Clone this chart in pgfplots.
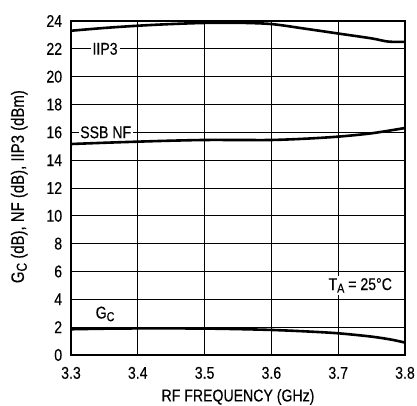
\documentclass[border=0pt]{standalone}
\usepackage{fontspec}
\setmainfont[FakeStretch=0.83, FakeBold=0.3]{Liberation Sans}
\usepackage{pgfplots}
\pgfplotsset{compat=1.18}
\newcommand{\fs}{\fontsize{17}{20}\selectfont}
\newcommand{\sub}[1]{\raisebox{-0.3ex}{\fontsize{13}{15}\selectfont #1}}
\begin{document}
\fs
\begin{tikzpicture}[x=1pt,y=1pt]
\useasboundingbox (0,0) rectangle (417,406);
\begin{axis}[
  at={(71pt,51pt)}, anchor=south west,
  scale only axis, width=334pt, height=334pt,
  xmin=3.3, xmax=3.8, ymin=0, ymax=24,
  xtick={3.3,3.4,3.5,3.6,3.7,3.8},
  xticklabels={3.3,3.4,3.5,3.6,3.7,3.8},
  ytick={0,2,...,24},
  grid=major,
  grid style={black, line width=0.8pt},
  axis line style={line width=1.2pt},
  major tick style={draw=none},
  /pgf/number format/assume math mode=true,
  tick label style={font=\fs},
  yticklabel style={xshift=-3pt},
  xticklabel style={yshift=-6pt},
  label style={font=\fs},
  xlabel={RF FREQUENCY (GHz)},
  ylabel={G\raisebox{-0.3ex}{\fontsize{14.5}{16}\selectfont C} (dB), NF (dB), IIP3 (dBm)},
  xlabel style={at={(axis description cs:0.5,-0.1257)}, anchor=center},
  ylabel style={at={(axis description cs:-0.155,0.504)}, anchor=center, font=\fontsize{18}{21}\selectfont},
  clip=true,
]
\addplot[black, line width=2.6pt, smooth] coordinates {
 (3.30,23.30) (3.35,23.50) (3.40,23.66) (3.45,23.78) (3.50,23.86) (3.55,23.87)
 (3.60,23.78) (3.65,23.45) (3.70,23.10) (3.75,22.75) (3.775,22.52) (3.80,22.50)};
\addplot[black, line width=2.6pt, smooth] coordinates {
 (3.30,15.16) (3.35,15.25) (3.40,15.33) (3.45,15.40) (3.50,15.45) (3.55,15.45)
 (3.60,15.45) (3.65,15.54) (3.70,15.69) (3.75,15.93) (3.80,16.31)};
\addplot[black, line width=2.6pt, smooth] coordinates {
 (3.30,1.85) (3.35,1.89) (3.40,1.91) (3.45,1.91) (3.50,1.90) (3.55,1.86)
 (3.60,1.80) (3.65,1.70) (3.70,1.56) (3.75,1.32) (3.78,1.10) (3.80,0.89)};
\node[fill=white, inner sep=2pt, font=\fs] at (axis cs:3.351,22) {IIP3};
\node[fill=white, inner sep=1.5pt, font=\fs] at (axis cs:3.352,16) {SSB NF};
\node[font=\fs] at (axis cs:3.351,2.95) {G\sub{C}};
\node[fill=white, inner sep=2pt, font=\fs] at (axis cs:3.733,5.0) {T\sub{A} = 25\textdegree C};
\end{axis}
\end{tikzpicture}
\end{document}
